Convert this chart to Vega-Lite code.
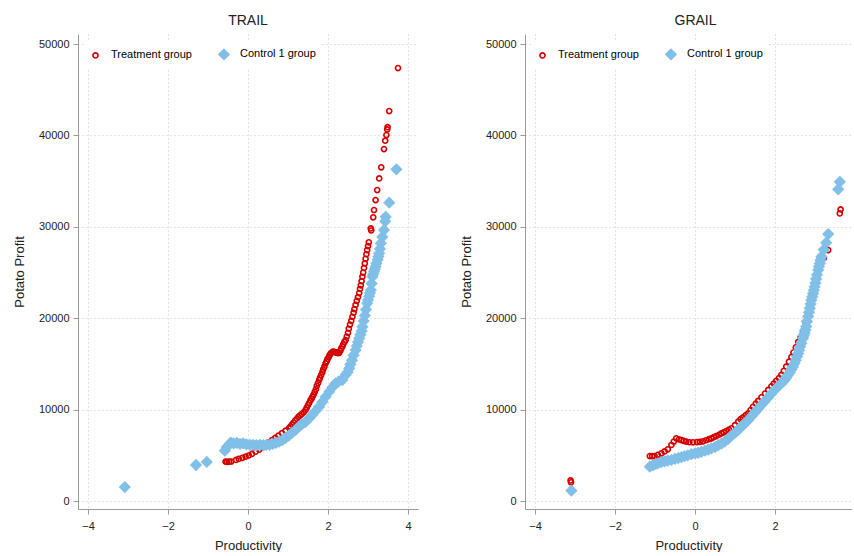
{
  "$schema": "https://vega.github.io/schema/vega-lite/v6.json",
  "padding": {"left": 13, "top": 14, "right": 0, "bottom": 0},
  "background": "white",
  "config": {
    "font": "Liberation Sans",
    "view": {"stroke": null},
    "axis": {
      "domainColor": "#9a9a9a",
      "tickColor": "#9a9a9a",
      "tickSize": 5,
      "labelFontSize": 11,
      "labelColor": "#222",
      "titleFontSize": 13,
      "titleFontWeight": "normal",
      "titleColor": "#222",
      "gridColor": "#c8c8c8",
      "gridDash": [1, 3],
      "gridWidth": 1
    },
    "title": {"fontSize": 14, "fontWeight": "normal", "color": "#222", "offset": 6}
  },
  "spacing": 42,
  "data": {"values": [
    {"panel":"TRAIL","group":"Treatment group","x":-0.56,"y":4300},
    {"panel":"TRAIL","group":"Treatment group","x":-0.52,"y":4280},
    {"panel":"TRAIL","group":"Treatment group","x":-0.47,"y":4300},
    {"panel":"TRAIL","group":"Treatment group","x":-0.42,"y":4320},
    {"panel":"TRAIL","group":"Treatment group","x":-0.3,"y":4500},
    {"panel":"TRAIL","group":"Treatment group","x":-0.23,"y":4600},
    {"panel":"TRAIL","group":"Treatment group","x":-0.14,"y":4720},
    {"panel":"TRAIL","group":"Treatment group","x":-0.06,"y":4850},
    {"panel":"TRAIL","group":"Treatment group","x":0.02,"y":4980},
    {"panel":"TRAIL","group":"Treatment group","x":0.1,"y":5150},
    {"panel":"TRAIL","group":"Treatment group","x":0.19,"y":5400},
    {"panel":"TRAIL","group":"Treatment group","x":0.28,"y":5620},
    {"panel":"TRAIL","group":"Treatment group","x":0.36,"y":5850},
    {"panel":"TRAIL","group":"Treatment group","x":0.44,"y":6120},
    {"panel":"TRAIL","group":"Treatment group","x":0.52,"y":6400},
    {"panel":"TRAIL","group":"Treatment group","x":0.6,"y":6670},
    {"panel":"TRAIL","group":"Treatment group","x":0.68,"y":6900},
    {"panel":"TRAIL","group":"Treatment group","x":0.76,"y":7150},
    {"panel":"TRAIL","group":"Treatment group","x":0.85,"y":7420},
    {"panel":"TRAIL","group":"Treatment group","x":0.94,"y":7700},
    {"panel":"TRAIL","group":"Treatment group","x":1.03,"y":7990},
    {"panel":"TRAIL","group":"Treatment group","x":1.06,"y":8150},
    {"panel":"TRAIL","group":"Treatment group","x":1.1,"y":8350},
    {"panel":"TRAIL","group":"Treatment group","x":1.14,"y":8580},
    {"panel":"TRAIL","group":"Treatment group","x":1.18,"y":8800},
    {"panel":"TRAIL","group":"Treatment group","x":1.22,"y":9000},
    {"panel":"TRAIL","group":"Treatment group","x":1.26,"y":9200},
    {"panel":"TRAIL","group":"Treatment group","x":1.3,"y":9350},
    {"panel":"TRAIL","group":"Treatment group","x":1.34,"y":9500},
    {"panel":"TRAIL","group":"Treatment group","x":1.39,"y":9700},
    {"panel":"TRAIL","group":"Treatment group","x":1.44,"y":9960},
    {"panel":"TRAIL","group":"Treatment group","x":1.47,"y":10230},
    {"panel":"TRAIL","group":"Treatment group","x":1.5,"y":10500},
    {"panel":"TRAIL","group":"Treatment group","x":1.53,"y":10750},
    {"panel":"TRAIL","group":"Treatment group","x":1.56,"y":11000},
    {"panel":"TRAIL","group":"Treatment group","x":1.59,"y":11200},
    {"panel":"TRAIL","group":"Treatment group","x":1.61,"y":11400},
    {"panel":"TRAIL","group":"Treatment group","x":1.64,"y":11650},
    {"panel":"TRAIL","group":"Treatment group","x":1.67,"y":11950},
    {"panel":"TRAIL","group":"Treatment group","x":1.7,"y":12250},
    {"panel":"TRAIL","group":"Treatment group","x":1.72,"y":12600},
    {"panel":"TRAIL","group":"Treatment group","x":1.75,"y":12900},
    {"panel":"TRAIL","group":"Treatment group","x":1.78,"y":13240},
    {"panel":"TRAIL","group":"Treatment group","x":1.8,"y":13500},
    {"panel":"TRAIL","group":"Treatment group","x":1.83,"y":13800},
    {"panel":"TRAIL","group":"Treatment group","x":1.86,"y":14100},
    {"panel":"TRAIL","group":"Treatment group","x":1.88,"y":14400},
    {"panel":"TRAIL","group":"Treatment group","x":1.91,"y":14700},
    {"panel":"TRAIL","group":"Treatment group","x":1.94,"y":15060},
    {"panel":"TRAIL","group":"Treatment group","x":1.97,"y":15300},
    {"panel":"TRAIL","group":"Treatment group","x":1.99,"y":15550},
    {"panel":"TRAIL","group":"Treatment group","x":2.02,"y":15750},
    {"panel":"TRAIL","group":"Treatment group","x":2.04,"y":15950},
    {"panel":"TRAIL","group":"Treatment group","x":2.07,"y":16150},
    {"panel":"TRAIL","group":"Treatment group","x":2.11,"y":16330},
    {"panel":"TRAIL","group":"Treatment group","x":2.14,"y":16350},
    {"panel":"TRAIL","group":"Treatment group","x":2.17,"y":16300},
    {"panel":"TRAIL","group":"Treatment group","x":2.2,"y":16250},
    {"panel":"TRAIL","group":"Treatment group","x":2.23,"y":16200},
    {"panel":"TRAIL","group":"Treatment group","x":2.26,"y":16180},
    {"panel":"TRAIL","group":"Treatment group","x":2.28,"y":16220},
    {"panel":"TRAIL","group":"Treatment group","x":2.31,"y":16450},
    {"panel":"TRAIL","group":"Treatment group","x":2.33,"y":16700},
    {"panel":"TRAIL","group":"Treatment group","x":2.36,"y":16900},
    {"panel":"TRAIL","group":"Treatment group","x":2.38,"y":17150},
    {"panel":"TRAIL","group":"Treatment group","x":2.41,"y":17400},
    {"panel":"TRAIL","group":"Treatment group","x":2.44,"y":17610},
    {"panel":"TRAIL","group":"Treatment group","x":2.47,"y":18000},
    {"panel":"TRAIL","group":"Treatment group","x":2.5,"y":18400},
    {"panel":"TRAIL","group":"Treatment group","x":2.52,"y":18850},
    {"panel":"TRAIL","group":"Treatment group","x":2.55,"y":19300},
    {"panel":"TRAIL","group":"Treatment group","x":2.58,"y":19700},
    {"panel":"TRAIL","group":"Treatment group","x":2.61,"y":20160},
    {"panel":"TRAIL","group":"Treatment group","x":2.64,"y":20600},
    {"panel":"TRAIL","group":"Treatment group","x":2.66,"y":21000},
    {"panel":"TRAIL","group":"Treatment group","x":2.69,"y":21450},
    {"panel":"TRAIL","group":"Treatment group","x":2.72,"y":21900},
    {"panel":"TRAIL","group":"Treatment group","x":2.75,"y":22300},
    {"panel":"TRAIL","group":"Treatment group","x":2.78,"y":22750},
    {"panel":"TRAIL","group":"Treatment group","x":2.8,"y":23200},
    {"panel":"TRAIL","group":"Treatment group","x":2.82,"y":23600},
    {"panel":"TRAIL","group":"Treatment group","x":2.84,"y":24050},
    {"panel":"TRAIL","group":"Treatment group","x":2.86,"y":24540},
    {"panel":"TRAIL","group":"Treatment group","x":2.88,"y":25000},
    {"panel":"TRAIL","group":"Treatment group","x":2.9,"y":25500},
    {"panel":"TRAIL","group":"Treatment group","x":2.92,"y":26000},
    {"panel":"TRAIL","group":"Treatment group","x":2.94,"y":26500},
    {"panel":"TRAIL","group":"Treatment group","x":2.96,"y":27000},
    {"panel":"TRAIL","group":"Treatment group","x":2.98,"y":27460},
    {"panel":"TRAIL","group":"Treatment group","x":3.0,"y":27900},
    {"panel":"TRAIL","group":"Treatment group","x":3.02,"y":28300},
    {"panel":"TRAIL","group":"Treatment group","x":3.07,"y":29830},
    {"panel":"TRAIL","group":"Treatment group","x":3.08,"y":29600},
    {"panel":"TRAIL","group":"Treatment group","x":3.13,"y":31040},
    {"panel":"TRAIL","group":"Treatment group","x":3.15,"y":31840},
    {"panel":"TRAIL","group":"Treatment group","x":3.19,"y":32930},
    {"panel":"TRAIL","group":"Treatment group","x":3.23,"y":34020},
    {"panel":"TRAIL","group":"Treatment group","x":3.28,"y":35300},
    {"panel":"TRAIL","group":"Treatment group","x":3.33,"y":36510},
    {"panel":"TRAIL","group":"Treatment group","x":3.4,"y":38510},
    {"panel":"TRAIL","group":"Treatment group","x":3.43,"y":39420},
    {"panel":"TRAIL","group":"Treatment group","x":3.46,"y":40040},
    {"panel":"TRAIL","group":"Treatment group","x":3.48,"y":40660},
    {"panel":"TRAIL","group":"Treatment group","x":3.49,"y":40900},
    {"panel":"TRAIL","group":"Treatment group","x":3.53,"y":42670},
    {"panel":"TRAIL","group":"Treatment group","x":3.75,"y":47370},
    {"panel":"TRAIL","group":"Control 1 group","x":-3.08,"y":1530},
    {"panel":"TRAIL","group":"Control 1 group","x":-1.3,"y":3940},
    {"panel":"TRAIL","group":"Control 1 group","x":-1.03,"y":4270},
    {"panel":"TRAIL","group":"Control 1 group","x":-0.58,"y":5500},
    {"panel":"TRAIL","group":"Control 1 group","x":-0.53,"y":5900},
    {"panel":"TRAIL","group":"Control 1 group","x":-0.47,"y":6200},
    {"panel":"TRAIL","group":"Control 1 group","x":-0.43,"y":6400},
    {"panel":"TRAIL","group":"Control 1 group","x":-0.36,"y":6300},
    {"panel":"TRAIL","group":"Control 1 group","x":-0.28,"y":6350},
    {"panel":"TRAIL","group":"Control 1 group","x":-0.2,"y":6250},
    {"panel":"TRAIL","group":"Control 1 group","x":-0.12,"y":6300},
    {"panel":"TRAIL","group":"Control 1 group","x":-0.04,"y":6200},
    {"panel":"TRAIL","group":"Control 1 group","x":0.05,"y":6150},
    {"panel":"TRAIL","group":"Control 1 group","x":0.13,"y":6150},
    {"panel":"TRAIL","group":"Control 1 group","x":0.21,"y":6100},
    {"panel":"TRAIL","group":"Control 1 group","x":0.3,"y":6150},
    {"panel":"TRAIL","group":"Control 1 group","x":0.38,"y":6100},
    {"panel":"TRAIL","group":"Control 1 group","x":0.46,"y":6150},
    {"panel":"TRAIL","group":"Control 1 group","x":0.54,"y":6150},
    {"panel":"TRAIL","group":"Control 1 group","x":0.62,"y":6250},
    {"panel":"TRAIL","group":"Control 1 group","x":0.7,"y":6350},
    {"panel":"TRAIL","group":"Control 1 group","x":0.78,"y":6500},
    {"panel":"TRAIL","group":"Control 1 group","x":0.86,"y":6670},
    {"panel":"TRAIL","group":"Control 1 group","x":0.94,"y":6900},
    {"panel":"TRAIL","group":"Control 1 group","x":1.02,"y":7150},
    {"panel":"TRAIL","group":"Control 1 group","x":1.1,"y":7450},
    {"panel":"TRAIL","group":"Control 1 group","x":1.19,"y":7770},
    {"panel":"TRAIL","group":"Control 1 group","x":1.27,"y":8150},
    {"panel":"TRAIL","group":"Control 1 group","x":1.35,"y":8400},
    {"panel":"TRAIL","group":"Control 1 group","x":1.44,"y":8650},
    {"panel":"TRAIL","group":"Control 1 group","x":1.53,"y":9050},
    {"panel":"TRAIL","group":"Control 1 group","x":1.61,"y":9450},
    {"panel":"TRAIL","group":"Control 1 group","x":1.69,"y":9850},
    {"panel":"TRAIL","group":"Control 1 group","x":1.78,"y":10320},
    {"panel":"TRAIL","group":"Control 1 group","x":1.86,"y":10850},
    {"panel":"TRAIL","group":"Control 1 group","x":1.94,"y":11400},
    {"panel":"TRAIL","group":"Control 1 group","x":2.03,"y":11960},
    {"panel":"TRAIL","group":"Control 1 group","x":2.11,"y":12450},
    {"panel":"TRAIL","group":"Control 1 group","x":2.19,"y":12880},
    {"panel":"TRAIL","group":"Control 1 group","x":2.27,"y":13100},
    {"panel":"TRAIL","group":"Control 1 group","x":2.36,"y":13240},
    {"panel":"TRAIL","group":"Control 1 group","x":2.44,"y":13800},
    {"panel":"TRAIL","group":"Control 1 group","x":2.49,"y":14100},
    {"panel":"TRAIL","group":"Control 1 group","x":2.53,"y":14520},
    {"panel":"TRAIL","group":"Control 1 group","x":2.56,"y":14950},
    {"panel":"TRAIL","group":"Control 1 group","x":2.6,"y":15400},
    {"panel":"TRAIL","group":"Control 1 group","x":2.64,"y":15950},
    {"panel":"TRAIL","group":"Control 1 group","x":2.69,"y":16520},
    {"panel":"TRAIL","group":"Control 1 group","x":2.72,"y":16950},
    {"panel":"TRAIL","group":"Control 1 group","x":2.75,"y":17400},
    {"panel":"TRAIL","group":"Control 1 group","x":2.78,"y":17800},
    {"panel":"TRAIL","group":"Control 1 group","x":2.81,"y":18200},
    {"panel":"TRAIL","group":"Control 1 group","x":2.84,"y":18600},
    {"panel":"TRAIL","group":"Control 1 group","x":2.86,"y":19070},
    {"panel":"TRAIL","group":"Control 1 group","x":2.89,"y":19700},
    {"panel":"TRAIL","group":"Control 1 group","x":2.92,"y":20300},
    {"panel":"TRAIL","group":"Control 1 group","x":2.95,"y":20950},
    {"panel":"TRAIL","group":"Control 1 group","x":2.98,"y":21630},
    {"panel":"TRAIL","group":"Control 1 group","x":3.0,"y":22000},
    {"panel":"TRAIL","group":"Control 1 group","x":3.03,"y":22400},
    {"panel":"TRAIL","group":"Control 1 group","x":3.05,"y":22750},
    {"panel":"TRAIL","group":"Control 1 group","x":3.07,"y":23080},
    {"panel":"TRAIL","group":"Control 1 group","x":3.09,"y":23800},
    {"panel":"TRAIL","group":"Control 1 group","x":3.11,"y":24540},
    {"panel":"TRAIL","group":"Control 1 group","x":3.13,"y":24800},
    {"panel":"TRAIL","group":"Control 1 group","x":3.15,"y":25100},
    {"panel":"TRAIL","group":"Control 1 group","x":3.17,"y":25350},
    {"panel":"TRAIL","group":"Control 1 group","x":3.19,"y":25630},
    {"panel":"TRAIL","group":"Control 1 group","x":3.21,"y":26000},
    {"panel":"TRAIL","group":"Control 1 group","x":3.24,"y":26400},
    {"panel":"TRAIL","group":"Control 1 group","x":3.26,"y":26750},
    {"panel":"TRAIL","group":"Control 1 group","x":3.28,"y":27100},
    {"panel":"TRAIL","group":"Control 1 group","x":3.3,"y":27600},
    {"panel":"TRAIL","group":"Control 1 group","x":3.32,"y":28190},
    {"panel":"TRAIL","group":"Control 1 group","x":3.36,"y":28900},
    {"panel":"TRAIL","group":"Control 1 group","x":3.4,"y":29650},
    {"panel":"TRAIL","group":"Control 1 group","x":3.43,"y":30600},
    {"panel":"TRAIL","group":"Control 1 group","x":3.44,"y":31100},
    {"panel":"TRAIL","group":"Control 1 group","x":3.53,"y":32640},
    {"panel":"TRAIL","group":"Control 1 group","x":3.71,"y":36290},
    {"panel":"GRAIL","group":"Treatment group","x":-3.11,"y":2250},
    {"panel":"GRAIL","group":"Treatment group","x":-3.1,"y":2050},
    {"panel":"GRAIL","group":"Treatment group","x":-1.13,"y":4920},
    {"panel":"GRAIL","group":"Treatment group","x":-1.07,"y":4900},
    {"panel":"GRAIL","group":"Treatment group","x":-1.01,"y":4920},
    {"panel":"GRAIL","group":"Treatment group","x":-0.93,"y":5050},
    {"panel":"GRAIL","group":"Treatment group","x":-0.84,"y":5220},
    {"panel":"GRAIL","group":"Treatment group","x":-0.76,"y":5420},
    {"panel":"GRAIL","group":"Treatment group","x":-0.68,"y":5650},
    {"panel":"GRAIL","group":"Treatment group","x":-0.59,"y":6130},
    {"panel":"GRAIL","group":"Treatment group","x":-0.53,"y":6500},
    {"panel":"GRAIL","group":"Treatment group","x":-0.47,"y":6860},
    {"panel":"GRAIL","group":"Treatment group","x":-0.4,"y":6750},
    {"panel":"GRAIL","group":"Treatment group","x":-0.34,"y":6670},
    {"panel":"GRAIL","group":"Treatment group","x":-0.28,"y":6580},
    {"panel":"GRAIL","group":"Treatment group","x":-0.22,"y":6490},
    {"panel":"GRAIL","group":"Treatment group","x":-0.14,"y":6430},
    {"panel":"GRAIL","group":"Treatment group","x":-0.05,"y":6420},
    {"panel":"GRAIL","group":"Treatment group","x":0.05,"y":6450},
    {"panel":"GRAIL","group":"Treatment group","x":0.12,"y":6470},
    {"panel":"GRAIL","group":"Treatment group","x":0.2,"y":6530},
    {"panel":"GRAIL","group":"Treatment group","x":0.28,"y":6650},
    {"panel":"GRAIL","group":"Treatment group","x":0.35,"y":6760},
    {"panel":"GRAIL","group":"Treatment group","x":0.41,"y":6860},
    {"panel":"GRAIL","group":"Treatment group","x":0.47,"y":6980},
    {"panel":"GRAIL","group":"Treatment group","x":0.53,"y":7100},
    {"panel":"GRAIL","group":"Treatment group","x":0.6,"y":7250},
    {"panel":"GRAIL","group":"Treatment group","x":0.66,"y":7400},
    {"panel":"GRAIL","group":"Treatment group","x":0.72,"y":7520},
    {"panel":"GRAIL","group":"Treatment group","x":0.78,"y":7650},
    {"panel":"GRAIL","group":"Treatment group","x":0.85,"y":7800},
    {"panel":"GRAIL","group":"Treatment group","x":0.91,"y":7950},
    {"panel":"GRAIL","group":"Treatment group","x":1.0,"y":8300},
    {"panel":"GRAIL","group":"Treatment group","x":1.08,"y":8700},
    {"panel":"GRAIL","group":"Treatment group","x":1.14,"y":8950},
    {"panel":"GRAIL","group":"Treatment group","x":1.2,"y":9150},
    {"panel":"GRAIL","group":"Treatment group","x":1.27,"y":9400},
    {"panel":"GRAIL","group":"Treatment group","x":1.33,"y":9600},
    {"panel":"GRAIL","group":"Treatment group","x":1.39,"y":9950},
    {"panel":"GRAIL","group":"Treatment group","x":1.45,"y":10300},
    {"panel":"GRAIL","group":"Treatment group","x":1.52,"y":10650},
    {"panel":"GRAIL","group":"Treatment group","x":1.58,"y":10950},
    {"panel":"GRAIL","group":"Treatment group","x":1.66,"y":11350},
    {"panel":"GRAIL","group":"Treatment group","x":1.75,"y":11750},
    {"panel":"GRAIL","group":"Treatment group","x":1.83,"y":12150},
    {"panel":"GRAIL","group":"Treatment group","x":1.91,"y":12550},
    {"panel":"GRAIL","group":"Treatment group","x":1.97,"y":12850},
    {"panel":"GRAIL","group":"Treatment group","x":2.03,"y":13150},
    {"panel":"GRAIL","group":"Treatment group","x":2.1,"y":13450},
    {"panel":"GRAIL","group":"Treatment group","x":2.16,"y":13800},
    {"panel":"GRAIL","group":"Treatment group","x":2.22,"y":14250},
    {"panel":"GRAIL","group":"Treatment group","x":2.28,"y":14700},
    {"panel":"GRAIL","group":"Treatment group","x":2.35,"y":15250},
    {"panel":"GRAIL","group":"Treatment group","x":2.41,"y":15750},
    {"panel":"GRAIL","group":"Treatment group","x":2.46,"y":16250},
    {"panel":"GRAIL","group":"Treatment group","x":2.52,"y":16800},
    {"panel":"GRAIL","group":"Treatment group","x":2.58,"y":17400},
    {"panel":"GRAIL","group":"Treatment group","x":2.64,"y":17900},
    {"panel":"GRAIL","group":"Treatment group","x":2.7,"y":18600},
    {"panel":"GRAIL","group":"Treatment group","x":2.76,"y":19600},
    {"panel":"GRAIL","group":"Treatment group","x":2.82,"y":20600},
    {"panel":"GRAIL","group":"Treatment group","x":2.88,"y":21700},
    {"panel":"GRAIL","group":"Treatment group","x":2.96,"y":23000},
    {"panel":"GRAIL","group":"Treatment group","x":3.04,"y":24500},
    {"panel":"GRAIL","group":"Treatment group","x":3.12,"y":25800},
    {"panel":"GRAIL","group":"Treatment group","x":3.22,"y":26600},
    {"panel":"GRAIL","group":"Treatment group","x":3.33,"y":27460},
    {"panel":"GRAIL","group":"Treatment group","x":3.62,"y":31470},
    {"panel":"GRAIL","group":"Treatment group","x":3.64,"y":31910},
    {"panel":"GRAIL","group":"Control 1 group","x":-3.09,"y":1130},
    {"panel":"GRAIL","group":"Control 1 group","x":-1.13,"y":3750},
    {"panel":"GRAIL","group":"Control 1 group","x":-1.05,"y":3900},
    {"panel":"GRAIL","group":"Control 1 group","x":-0.98,"y":4050},
    {"panel":"GRAIL","group":"Control 1 group","x":-0.93,"y":4120},
    {"panel":"GRAIL","group":"Control 1 group","x":-0.85,"y":4250},
    {"panel":"GRAIL","group":"Control 1 group","x":-0.76,"y":4350},
    {"panel":"GRAIL","group":"Control 1 group","x":-0.68,"y":4420},
    {"panel":"GRAIL","group":"Control 1 group","x":-0.59,"y":4490},
    {"panel":"GRAIL","group":"Control 1 group","x":-0.5,"y":4600},
    {"panel":"GRAIL","group":"Control 1 group","x":-0.42,"y":4700},
    {"panel":"GRAIL","group":"Control 1 group","x":-0.34,"y":4800},
    {"panel":"GRAIL","group":"Control 1 group","x":-0.26,"y":4920},
    {"panel":"GRAIL","group":"Control 1 group","x":-0.18,"y":5000},
    {"panel":"GRAIL","group":"Control 1 group","x":-0.09,"y":5120},
    {"panel":"GRAIL","group":"Control 1 group","x":0.0,"y":5200},
    {"panel":"GRAIL","group":"Control 1 group","x":0.08,"y":5280},
    {"panel":"GRAIL","group":"Control 1 group","x":0.16,"y":5380},
    {"panel":"GRAIL","group":"Control 1 group","x":0.25,"y":5500},
    {"panel":"GRAIL","group":"Control 1 group","x":0.33,"y":5620},
    {"panel":"GRAIL","group":"Control 1 group","x":0.41,"y":5760},
    {"panel":"GRAIL","group":"Control 1 group","x":0.5,"y":5900},
    {"panel":"GRAIL","group":"Control 1 group","x":0.58,"y":6100},
    {"panel":"GRAIL","group":"Control 1 group","x":0.66,"y":6280},
    {"panel":"GRAIL","group":"Control 1 group","x":0.74,"y":6490},
    {"panel":"GRAIL","group":"Control 1 group","x":0.83,"y":6800},
    {"panel":"GRAIL","group":"Control 1 group","x":0.91,"y":7150},
    {"panel":"GRAIL","group":"Control 1 group","x":1.0,"y":7450},
    {"panel":"GRAIL","group":"Control 1 group","x":1.08,"y":7770},
    {"panel":"GRAIL","group":"Control 1 group","x":1.14,"y":8050},
    {"panel":"GRAIL","group":"Control 1 group","x":1.2,"y":8300},
    {"panel":"GRAIL","group":"Control 1 group","x":1.27,"y":8600},
    {"panel":"GRAIL","group":"Control 1 group","x":1.33,"y":8860},
    {"panel":"GRAIL","group":"Control 1 group","x":1.42,"y":9300},
    {"panel":"GRAIL","group":"Control 1 group","x":1.5,"y":9700},
    {"panel":"GRAIL","group":"Control 1 group","x":1.58,"y":10100},
    {"panel":"GRAIL","group":"Control 1 group","x":1.66,"y":10500},
    {"panel":"GRAIL","group":"Control 1 group","x":1.74,"y":10900},
    {"panel":"GRAIL","group":"Control 1 group","x":1.82,"y":11300},
    {"panel":"GRAIL","group":"Control 1 group","x":1.9,"y":11700},
    {"panel":"GRAIL","group":"Control 1 group","x":1.99,"y":12140},
    {"panel":"GRAIL","group":"Control 1 group","x":2.07,"y":12500},
    {"panel":"GRAIL","group":"Control 1 group","x":2.15,"y":12850},
    {"panel":"GRAIL","group":"Control 1 group","x":2.2,"y":13050},
    {"panel":"GRAIL","group":"Control 1 group","x":2.24,"y":13240},
    {"panel":"GRAIL","group":"Control 1 group","x":2.28,"y":13500},
    {"panel":"GRAIL","group":"Control 1 group","x":2.32,"y":13750},
    {"panel":"GRAIL","group":"Control 1 group","x":2.37,"y":14050},
    {"panel":"GRAIL","group":"Control 1 group","x":2.41,"y":14400},
    {"panel":"GRAIL","group":"Control 1 group","x":2.45,"y":14700},
    {"panel":"GRAIL","group":"Control 1 group","x":2.49,"y":15060},
    {"panel":"GRAIL","group":"Control 1 group","x":2.52,"y":15400},
    {"panel":"GRAIL","group":"Control 1 group","x":2.55,"y":15800},
    {"panel":"GRAIL","group":"Control 1 group","x":2.58,"y":16150},
    {"panel":"GRAIL","group":"Control 1 group","x":2.6,"y":16500},
    {"panel":"GRAIL","group":"Control 1 group","x":2.63,"y":16900},
    {"panel":"GRAIL","group":"Control 1 group","x":2.66,"y":17250},
    {"panel":"GRAIL","group":"Control 1 group","x":2.7,"y":17800},
    {"panel":"GRAIL","group":"Control 1 group","x":2.72,"y":18100},
    {"panel":"GRAIL","group":"Control 1 group","x":2.74,"y":18350},
    {"panel":"GRAIL","group":"Control 1 group","x":2.76,"y":18700},
    {"panel":"GRAIL","group":"Control 1 group","x":2.78,"y":19100},
    {"panel":"GRAIL","group":"Control 1 group","x":2.8,"y":19650},
    {"panel":"GRAIL","group":"Control 1 group","x":2.83,"y":20200},
    {"panel":"GRAIL","group":"Control 1 group","x":2.85,"y":20650},
    {"panel":"GRAIL","group":"Control 1 group","x":2.87,"y":21100},
    {"panel":"GRAIL","group":"Control 1 group","x":2.89,"y":21550},
    {"panel":"GRAIL","group":"Control 1 group","x":2.91,"y":21990},
    {"panel":"GRAIL","group":"Control 1 group","x":2.93,"y":22350},
    {"panel":"GRAIL","group":"Control 1 group","x":2.95,"y":22700},
    {"panel":"GRAIL","group":"Control 1 group","x":2.97,"y":23050},
    {"panel":"GRAIL","group":"Control 1 group","x":2.99,"y":23440},
    {"panel":"GRAIL","group":"Control 1 group","x":3.01,"y":23850},
    {"panel":"GRAIL","group":"Control 1 group","x":3.03,"y":24300},
    {"panel":"GRAIL","group":"Control 1 group","x":3.05,"y":24750},
    {"panel":"GRAIL","group":"Control 1 group","x":3.08,"y":25270},
    {"panel":"GRAIL","group":"Control 1 group","x":3.1,"y":25650},
    {"panel":"GRAIL","group":"Control 1 group","x":3.12,"y":26000},
    {"panel":"GRAIL","group":"Control 1 group","x":3.14,"y":26350},
    {"panel":"GRAIL","group":"Control 1 group","x":3.16,"y":26730},
    {"panel":"GRAIL","group":"Control 1 group","x":3.22,"y":27500},
    {"panel":"GRAIL","group":"Control 1 group","x":3.28,"y":28260},
    {"panel":"GRAIL","group":"Control 1 group","x":3.33,"y":29210},
    {"panel":"GRAIL","group":"Control 1 group","x":3.58,"y":34100},
    {"panel":"GRAIL","group":"Control 1 group","x":3.62,"y":34930}
  ]},
  "hconcat": [
    {
      "title": {"text": "TRAIL"},
      "width": 340,
      "height": 475,
      "transform": [{"filter": "datum.panel === 'TRAIL'"}],
      "mark": {"type": "point", "opacity": 1, "strokeWidth": 1.6},
      "encoding": {
        "x": {"field": "x", "type": "quantitative", "title": "Productivity",
              "scale": {"domain": [-4.25, 4.25], "nice": false, "zero": false},
              "axis": {"values": [-4, -2, 0, 2, 4], "labelPadding": 6, "titlePadding": 8}},
        "y": {"field": "y", "type": "quantitative", "title": "Potato Profit",
              "scale": {"domain": [-875, 51100], "nice": false, "zero": false},
              "axis": {"values": [0, 10000, 20000, 30000, 40000, 50000], "format": "d", "labelPadding": 4, "titlePadding": 12}},
        "shape": {"field": "group", "type": "nominal",
                  "scale": {"domain": ["Treatment group", "Control 1 group"], "range": ["circle", "diamond"]},
                  "legend": {"title": null, "orient": "none", "legendX": 6, "legendY": 8, "direction": "horizontal",
                             "fillColor": "white", "padding": 6, "labelFontSize": 11, "columnPadding": 23, "labelOffset": 10, "symbolStrokeWidth": 1.6}},
        "stroke": {"field": "group", "type": "nominal",
                   "scale": {"domain": ["Treatment group", "Control 1 group"], "range": ["#d40000", "#80bfe8"]}},
        "fill": {"field": "group", "type": "nominal",
                 "scale": {"domain": ["Treatment group", "Control 1 group"], "range": ["transparent", "#80bfe8"]}},
        "size": {"field": "group", "type": "nominal",
                 "scale": {"domain": ["Treatment group", "Control 1 group"], "range": [26, 100]}}
      }
    },
    {
      "title": {"text": "GRAIL", "dx": 7},
      "width": 327,
      "height": 475,
      "transform": [{"filter": "datum.panel === 'GRAIL'"}],
      "mark": {"type": "point", "opacity": 1, "strokeWidth": 1.6},
      "encoding": {
        "x": {"field": "x", "type": "quantitative", "title": "Productivity",
              "scale": {"domain": [-4.25, 3.925], "nice": false, "zero": false},
              "axis": {"values": [-4, -2, 0, 2], "labelPadding": 6, "titlePadding": 8}},
        "y": {"field": "y", "type": "quantitative", "title": "Potato Profit",
              "scale": {"domain": [-875, 51100], "nice": false, "zero": false},
              "axis": {"values": [0, 10000, 20000, 30000, 40000, 50000], "format": "d", "labelPadding": 4, "titlePadding": 12}},
        "shape": {"field": "group", "type": "nominal",
                  "scale": {"domain": ["Treatment group", "Control 1 group"], "range": ["circle", "diamond"]},
                  "legend": {"title": null, "orient": "none", "legendX": 6, "legendY": 8, "direction": "horizontal",
                             "fillColor": "white", "padding": 6, "labelFontSize": 11, "columnPadding": 23, "labelOffset": 10, "symbolStrokeWidth": 1.6}},
        "stroke": {"field": "group", "type": "nominal",
                   "scale": {"domain": ["Treatment group", "Control 1 group"], "range": ["#d40000", "#80bfe8"]}},
        "fill": {"field": "group", "type": "nominal",
                 "scale": {"domain": ["Treatment group", "Control 1 group"], "range": ["transparent", "#80bfe8"]}},
        "size": {"field": "group", "type": "nominal",
                 "scale": {"domain": ["Treatment group", "Control 1 group"], "range": [26, 100]}}
      }
    }
  ],
  "resolve": {"scale": {"x": "independent", "y": "independent", "shape": "independent", "stroke": "independent", "fill": "independent", "size": "independent"},
              "legend": {"shape": "independent", "stroke": "independent", "fill": "independent", "size": "independent"}}
}
